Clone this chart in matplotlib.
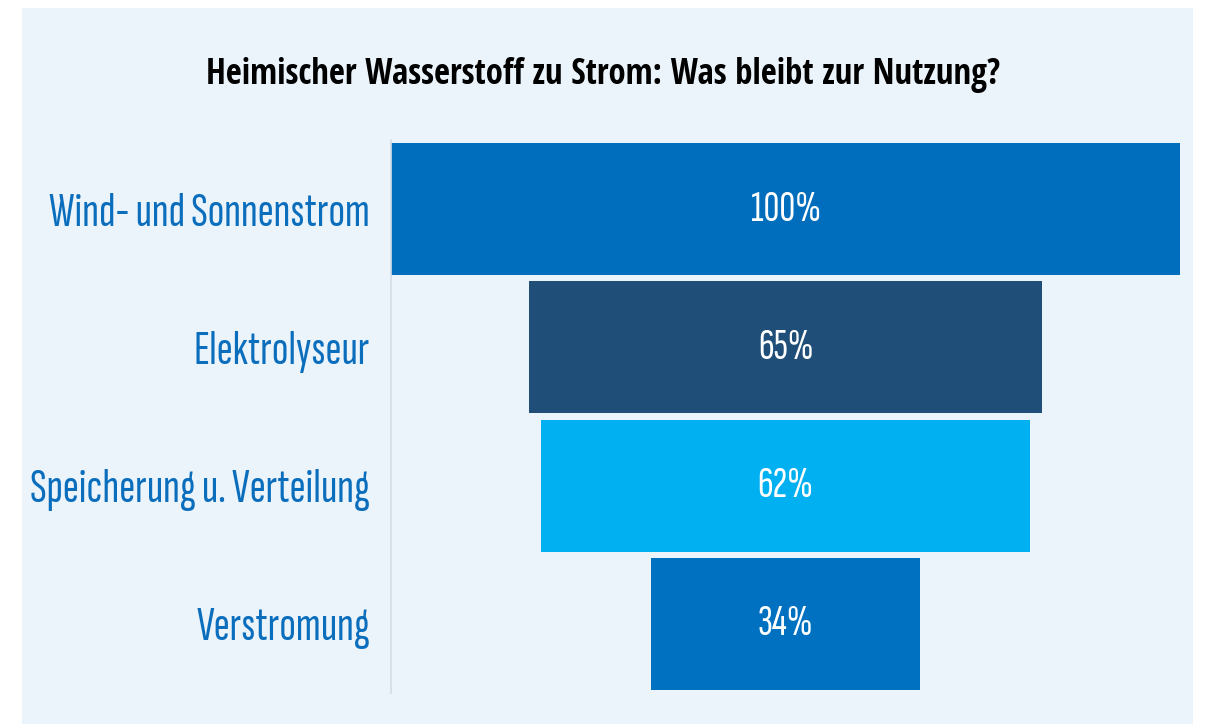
import matplotlib
matplotlib.use("Agg")
import matplotlib.pyplot as plt
from matplotlib.patches import Rectangle

categories = ["Wind- und Sonnenstrom", "Elektrolyseur", "Speicherung u. Verteilung", "Verstromung"]
values = [1.00, 0.65, 0.62, 0.34]
value_labels = ["100%", "65%", "62%", "34%"]
colors = ["#006EBD", "#1F4E79", "#00B0F0", "#0070C0"]
title = "Heimischer Wasserstoff zu Strom: Was bleibt zur Nutzung?"

FONT = ["Sofia Sans Extra Condensed", "Barlow Condensed", "DejaVu Sans"]
TITLE_FONT = ["Open Sans Condensed", "Fira Sans Extra Condensed", "Barlow Condensed", "DejaVu Sans"]
W, H = 1207, 724
fig = plt.figure(figsize=(W / 100, H / 100), dpi=100, facecolor="white")
renderer = fig.canvas.get_renderer()


def fit_size(text, target_px, family, weight="normal", base=30):
    t = fig.text(0, 0, text, fontsize=base, family=family, fontweight=weight)
    w = t.get_window_extent(renderer).width
    t.remove()
    return base * target_px / w


label_fs = fit_size(categories[0], 322, FONT)
value_fs = fit_size(value_labels[0], 70, FONT)
title_fs = fit_size(title, 795, TITLE_FONT, weight="bold")

# panel background
fig.patches.append(Rectangle((22 / W, 0), (1193 - 22) / W, (724 - 8) / H,
                             transform=fig.transFigure, facecolor="#EBF3FB",
                             edgecolor="none", zorder=-1))

ax = fig.add_axes([391 / W, 1 - 693 / H, (1180 - 391) / W, (693 - 140) / H])
ax.set_zorder(2)
ax.set_facecolor("none")
ypos = list(range(len(categories)))
ax.barh(ypos, values, left=[-v / 2 for v in values], height=0.955, color=colors, edgecolor="none")
for y, v, lab in zip(ypos, values, value_labels):
    ax.text(0, y, lab, ha="center", va="center", color="white", fontsize=value_fs, family=FONT)

ax.set_xlim(-0.5, 0.5)
ax.set_ylim(len(categories) - 0.5, -0.5)
ax.set_yticks(ypos)
ax.set_yticklabels(categories, family=FONT, fontsize=label_fs, color="#0A6EBD")
ax.tick_params(axis="y", length=0, pad=15)
ax.set_xticks([])
for s in ["top", "right", "bottom"]:
    ax.spines[s].set_visible(False)
ax.spines["left"].set_color("#D3DCE6")
ax.spines["left"].set_linewidth(1.2)

fig.text(0.5, 1 - 75 / H, title, ha="center", va="center", fontsize=title_fs,
         fontweight="bold", family=TITLE_FONT, color="black")

fig.savefig("out.png", dpi=100, facecolor="white")
